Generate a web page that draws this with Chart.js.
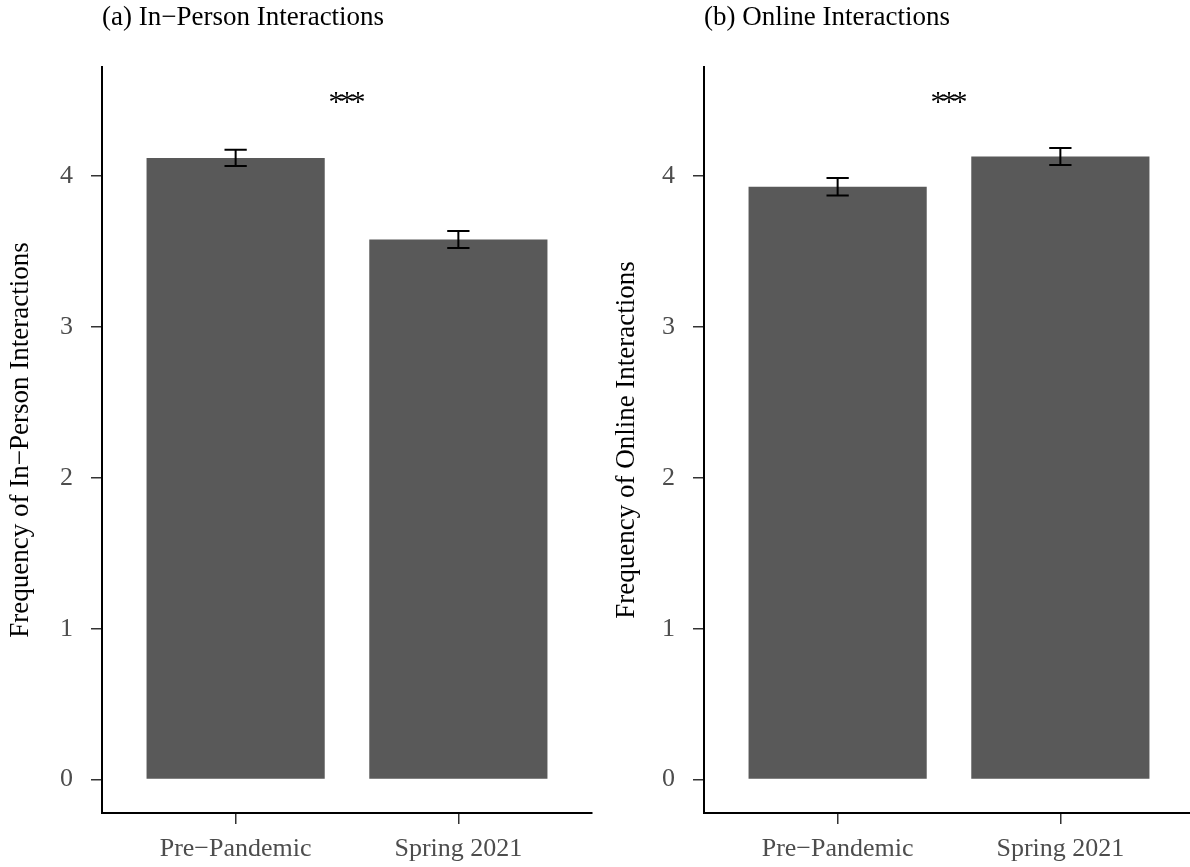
<!DOCTYPE html>
<html>
<head>
<meta charset="utf-8">
<script src="https://cdn.jsdelivr.net/npm/chart.js@4.4.1/dist/chart.umd.min.js"></script>
<style>
  html, body { margin: 0; padding: 0; background: #fff; }
  #wrap { position: relative; width: 1190px; height: 867px; overflow: hidden; background: #fff; }
  canvas { position: absolute; top: 0; }
</style>
</head>
<body>
<div id="wrap">
  <canvas id="c1" width="600" height="867" style="left:0px"></canvas>
  <canvas id="c2" width="600" height="867" style="left:600px"></canvas>
</div>
<script>
// ---- data ----
const categories = ['Pre\u2212Pandemic', 'Spring 2021'];
const yTickValues = [0, 1, 2, 3, 4];
const inPersonMeans = [4.12, 3.58];
const inPersonSE = [0.054, 0.056];
const onlineMeans = [3.93, 4.13];
const onlineSE = [0.058, 0.056];
const sigLabel = '***';
const sigLevel = 4.52;
const panelTitles = ['(a) In\u2212Person Interactions', '(b) Online Interactions'];
const yAxisTitles = ['Frequency of In\u2212Person Interactions', 'Frequency of Online Interactions'];

const FONT = '"Liberation Serif", "Times New Roman", serif';

const overlay = {
  id: 'overlay',
  afterDatasetsDraw(chart, args, opts) {
    const ctx = chart.ctx;
    const xs = chart.scales.x, ys = chart.scales.y;
    const ds = chart.data.datasets[0];
    const se = opts.se;
    ctx.save();
    ctx.strokeStyle = '#000';
    ctx.lineWidth = 2;
    const half = xs.getPixelForValue(1.05) - xs.getPixelForValue(1);
    ds.data.forEach((p, i) => {
      const x = xs.getPixelForValue(p.x);
      const yHi = ys.getPixelForValue(p.y + se[i]);
      const yLo = ys.getPixelForValue(p.y - se[i]);
      ctx.beginPath();
      ctx.moveTo(x - half, yHi); ctx.lineTo(x + half, yHi);
      ctx.moveTo(x, yHi); ctx.lineTo(x, yLo);
      ctx.moveTo(x - half, yLo); ctx.lineTo(x + half, yLo);
      ctx.stroke();
    });
    // significance
    ctx.fillStyle = '#000';
    ctx.font = '30px ' + FONT;
    try { ctx.letterSpacing = '-4px'; } catch (e) {}
    ctx.textAlign = 'center';
    ctx.textBaseline = 'alphabetic';
    ctx.fillText(sigLabel, xs.getPixelForValue(1.5) - 2, ys.getPixelForValue(sigLevel) + 13);
    try { ctx.letterSpacing = '0px'; } catch (e) {}
    // panel title
    ctx.font = '27px ' + FONT;
    ctx.textAlign = 'left';
    ctx.textBaseline = 'middle';
    ctx.fillText(opts.title, chart.chartArea.left, 18);
    ctx.restore();
  }
};

function makePanel(id, means, se, title, ytitle, axisW, titlePad) {
  const ctx = document.getElementById(id);
  return new Chart(ctx, {
    type: 'bar',
    data: {
      datasets: [{
        data: means.map((v, i) => ({ x: i + 1, y: v })),
        backgroundColor: '#595959',
        borderWidth: 0,
        barPercentage: 0.8,
        categoryPercentage: 1.0
      }]
    },
    options: {
      responsive: false,
      animation: false,
      devicePixelRatio: 1,
      events: [],
      layout: { padding: { top: 67, left: 0, right: 600 - axisW - 490, bottom: 0 } },
      plugins: {
        legend: { display: false },
        tooltip: { enabled: false },
        title: { display: false },
        overlay: { se: se, title: title }
      },
      scales: {
        x: {
          type: 'linear',
          offset: false,
          min: 0.4, max: 2.6,
          afterFit: s => { s.height = 54; },
          afterBuildTicks: s => { s.ticks = categories.map((c, i) => ({ value: i + 1 })); },
          ticks: {
            autoSkip: false, maxRotation: 0, minRotation: 0,
            callback: (v, i) => categories[i],
            color: '#4d4d4d',
            font: { family: FONT, size: 26 },
            padding: 10
          },
          grid: { display: true, offset: false, drawOnChartArea: false, drawTicks: true, tickLength: 11, color: '#333', lineWidth: 1.5 },
          border: { display: true, color: '#000', width: 2 }
        },
        y: {
          type: 'linear',
          min: -0.2215, max: 4.723,
          afterFit: s => { s.width = axisW; },
          afterBuildTicks: s => { s.ticks = yTickValues.map(v => ({ value: v })); },
          ticks: {
            color: '#4d4d4d',
            font: { family: FONT, size: 26 },
            padding: 18,
            callback: v => String(v)
          },
          grid: { display: true, drawOnChartArea: false, drawTicks: true, tickLength: 11, color: '#333', lineWidth: 1.5 },
          border: { display: true, color: '#000', width: 2 },
          title: {
            display: true, text: ytitle, color: '#000',
            font: { family: FONT, size: 27 },
            padding: { top: titlePad, bottom: 0 }
          }
        }
      }
    },
    plugins: [overlay]
  });
}

makePanel('c1', inPersonMeans, inPersonSE, panelTitles[0], yAxisTitles[0], 102, 5);
makePanel('c2', onlineMeans, onlineSE, panelTitles[1], yAxisTitles[1], 104, 11);
</script>
</body>
</html>
